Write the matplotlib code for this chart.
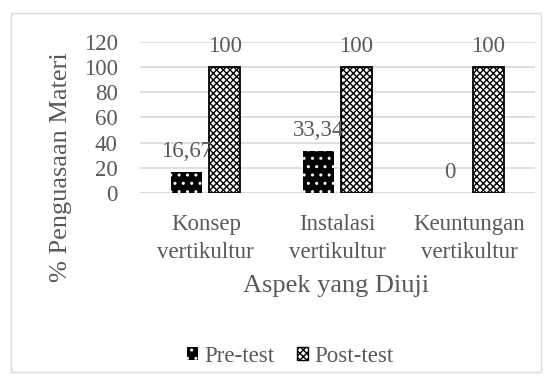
import numpy as np
import matplotlib.pyplot as plt
from matplotlib.patches import Rectangle, Patch

plt.rcParams['font.family'] = ['Liberation Serif', 'DejaVu Serif']
plt.rcParams['hatch.linewidth'] = 1.0

categories = ['Konsep\nvertikultur', 'Instalasi\nvertikultur', 'Keuntungan\nvertikultur']
pre_test = [16.67, 33.34, 0]
post_test = [100, 100, 100]
pre_labels = ['16,67', '33,34', '0']
post_labels = ['100', '100', '100']
yticks = [0, 20, 40, 60, 80, 100, 120]

gray = '#595959'
fs = 16.5

fig = plt.figure(figsize=(5.53, 3.85), dpi=100)
ax = fig.add_axes([140 / 553, 1 - 193 / 385, 395 / 553, 151 / 385])

x = np.arange(len(categories))
w = 0.236
off = 0.144
b1 = ax.bar(x - off, pre_test, w, color='black', edgecolor='white',
            hatch='..', linewidth=0, zorder=3)
b2 = ax.bar(x + off, post_test, w, color='white', edgecolor='black',
            hatch='xxxxx', linewidth=1.3, zorder=3)

for rect, lab in zip(b1, pre_labels):
    ax.text(rect.get_x() + rect.get_width() / 2, rect.get_height() + 8, lab,
            ha='center', va='bottom', fontsize=fs, color=gray, zorder=4)
for rect, lab in zip(b2, post_labels):
    ax.text(rect.get_x() + rect.get_width() / 2, rect.get_height() + 8, lab,
            ha='center', va='bottom', fontsize=fs, color=gray, zorder=4)

ax.set_xlim(-0.5, 2.5)
ax.set_ylim(0, 120)
ax.set_yticks(yticks)
ax.set_xticks(x)
ax.set_xticklabels(categories, fontsize=fs, color=gray, linespacing=1.42)
ax.tick_params(axis='y', labelsize=fs, colors=gray, length=0, pad=16)
ax.tick_params(axis='x', length=0, pad=15)
ax.grid(axis='y', color='#d9d9d9', linewidth=1.2, zorder=0)
for s in ax.spines.values():
    s.set_visible(False)
ax.axhline(0, color='#d9d9d9', linewidth=1.2, zorder=2)

fig.text(336 / 553, 1 - 286 / 385, 'Aspek yang Diuji', ha='center', va='center',
         fontsize=19, color=gray)
fig.text(61 / 553, 1 - 167 / 385, '% Penguasaan Materi', ha='center', va='center',
         rotation=90, fontsize=19, color=gray)

handles = [Patch(facecolor='black', edgecolor='white', hatch='..', linewidth=0),
           Patch(facecolor='white', edgecolor='black', hatch='xxxxx', linewidth=1)]
fig.legend(handles, ['Pre-test', 'Post-test'], loc='center',
           bbox_to_anchor=(290 / 553, 1 - 356 / 385), ncol=2, frameon=False,
           fontsize=fs, handlelength=0.5, handleheight=0.5, handletextpad=0.25,
           columnspacing=1.0, labelcolor=gray, borderpad=0)

fig.patches.append(Rectangle((11 / 553, 13 / 385), 530 / 553, 359 / 385,
                             transform=fig.transFigure, fill=False,
                             edgecolor='#d9d9d9', linewidth=1))

fig.savefig('out.png', dpi=100)
